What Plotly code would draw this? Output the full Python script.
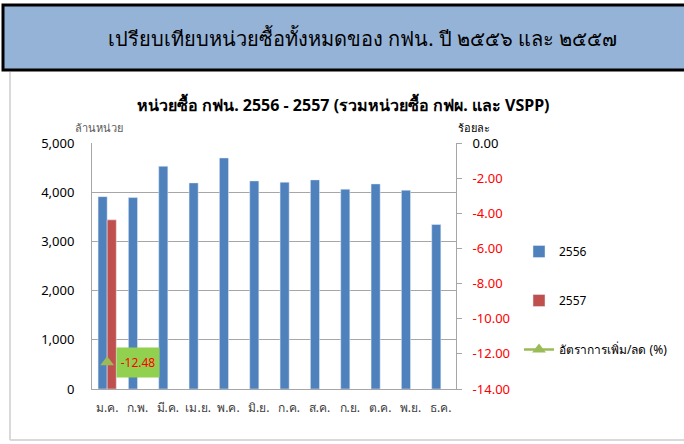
import plotly.graph_objects as go

months = ["ม.ค.", "ก.พ.", "มี.ค.", "เม.ย.", "พ.ค.", "มิ.ย.", "ก.ค.", "ส.ค.", "ก.ย.", "ต.ค.", "พ.ย.", "ธ.ค."]
units_2556 = [3910, 3890, 4527, 4189, 4696, 4229, 4203, 4250, 4061, 4168, 4040, 3343]
units_2557 = [3438, None, None, None, None, None, None, None, None, None, None, None]
growth = [-12.48, None, None, None, None, None, None, None, None, None, None, None]
y2_ticks = [0, -2, -4, -6, -8, -10, -12, -14]

W, H = 684, 444
L, R, T, B = 92, 456, 143, 389

def px(x):
    return (x - L) / (R - L)

def py(y):
    return (B - y) / (B - T)

FONT = "Noto Sans, DejaVu Sans, sans-serif"

fig = go.Figure()
fig.add_trace(go.Bar(x=months, y=units_2556, name="2556", marker_color="#4F81BD", offsetgroup="a", legendgroup="g0"))
fig.add_trace(go.Bar(x=months, y=units_2557, name="2557", marker_color="#C0504D", offsetgroup="b", legendgroup="g1"))
fig.add_trace(go.Scatter(x=months, y=growth, name="อัตราการเพิ่ม/ลด (%)", yaxis="y2", mode="lines+markers",
                         legendgroup="g2",
                         line=dict(color="#9BBB59", width=2.5),
                         marker=dict(symbol="triangle-up", size=12, color="#9BBB59")))

# data label for growth point
fig.add_annotation(x=months[0], y=growth[0], yref="y2", xref="x", text="-12.48",
                   showarrow=False, xanchor="left", xshift=9, yshift=0,
                   bgcolor="#92D050", borderpad=2, width=38, height=25,
                   font=dict(color="#FF0000", size=12, family=FONT))

ticktext = ["0.00" if v == 0 else '<span style="color:#FF0000">%.2f</span>' % v for v in y2_ticks]

fig.update_layout(
    width=W, height=H,
    margin=dict(l=L, r=W - R, t=T, b=H - B, autoexpand=False),
    paper_bgcolor="white", plot_bgcolor="white",
    barmode="group", bargap=0.4, bargroupgap=0,
    font=dict(family=FONT, color="#000000"),
    showlegend=True,
    legend=dict(x=px(519), y=py(237), xanchor="left", yanchor="top",
                font=dict(size=12, color="#000000"), tracegroupgap=30,
                itemwidth=30, traceorder="grouped"),
    xaxis=dict(range=[-0.5, len(months) - 0.5], showline=True, linecolor="#A6A6A6", linewidth=1, ticks="",
               tickfont=dict(size=12, color="#404040"), fixedrange=True,
               ticklabelstandoff=8, automargin=False),
    yaxis=dict(range=[0, 5000], dtick=1000, tickformat=",", showgrid=True,
               gridcolor="#A6A6A6", gridwidth=1, showline=True, linecolor="#A6A6A6",
               tickfont=dict(size=13, color="#000000"), zeroline=False, ticks="",
               ticklabelstandoff=14, automargin=False),
    yaxis2=dict(range=[-14, 0], overlaying="y", side="right", tickvals=y2_ticks,
                ticktext=ticktext, showgrid=False, zeroline=False, showline=True,
                linecolor="#A6A6A6", ticks="outside", ticklen=5, tickcolor="#A6A6A6",
                tickfont=dict(size=13, color="#000000"), ticklabelstandoff=8,
                automargin=False),
)

# Title box
fig.add_shape(type="rect", xref="paper", yref="paper",
              x0=px(3), x1=px(700), y0=py(70), y1=py(5),
              fillcolor="#95B3D7", line=dict(color="#000000", width=3), layer="above")
fig.add_annotation(xref="paper", yref="paper", x=px(362), y=py(38), xanchor="center", yanchor="middle",
                   text="เปรียบเทียบหน่วยซื้อทั้งหมดของ กฟน. ปี ๒๕๕๖ และ ๒๕๕๗",
                   showarrow=False, font=dict(size=20, color="#000000", family=FONT))
# chart frame
fig.add_shape(type="line", xref="paper", yref="paper", x0=px(10), x1=px(10), y0=py(72), y1=py(440),
              line=dict(color="#D9D9D9", width=2))
fig.add_shape(type="line", xref="paper", yref="paper", x0=px(10), x1=px(700), y0=py(440), y1=py(440),
              line=dict(color="#D9D9D9", width=2))
# chart title
fig.add_annotation(xref="paper", yref="paper", x=px(343), y=py(104), xanchor="center", yanchor="middle",
                   text="<b>หน่วยซื้อ กฟน. 2556 - 2557 (รวมหน่วยซื้อ กฟผ. และ VSPP)</b>",
                   showarrow=False, font=dict(size=16, color="#000000", family=FONT))
# axis titles
fig.add_annotation(xref="paper", yref="paper", x=px(99), y=py(127), xanchor="center", yanchor="middle",
                   text="ล้านหน่วย",
                   showarrow=False, font=dict(size=11, color="#595959", family=FONT))
fig.add_annotation(xref="paper", yref="paper", x=px(474), y=py(127), xanchor="center", yanchor="middle",
                   text="ร้อยละ",
                   showarrow=False, font=dict(size=11, color="#000000", family=FONT))

fig.write_html("out.html", config={"displayModeBar": False},
               post_script="document.body.style.margin='0px';")
